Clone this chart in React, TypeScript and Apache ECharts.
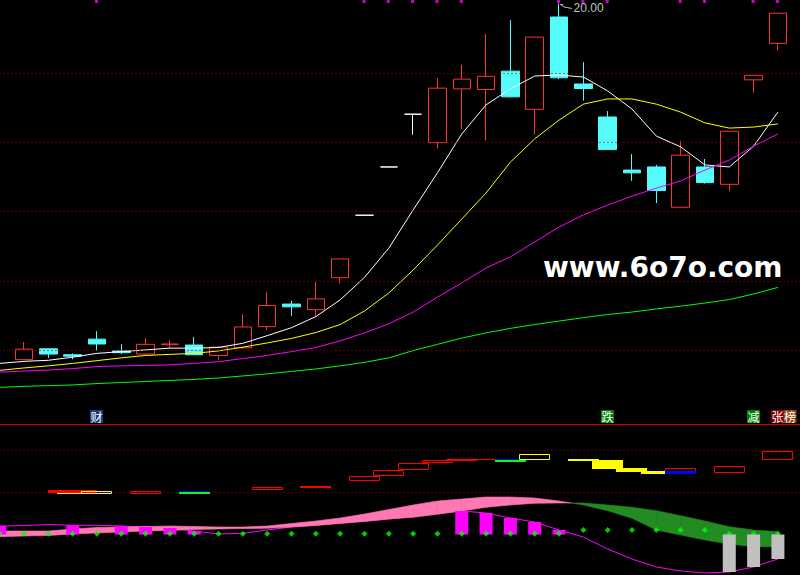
import React, { useEffect, useRef } from "react";
import * as echarts from "echarts";

const categories = [
  "D00", "D01", "D02", "D03", "D04", "D05", "D06", "D07", "D08", "D09",
  "D10", "D11", "D12", "D13", "D14", "D15", "D16", "D17", "D18", "D19",
  "D20", "D21", "D22", "D23", "D24", "D25", "D26", "D27", "D28", "D29",
  "D30", "D31", "D32", "D33",
];

// [open, close, low, high]
const candles: any[] = [
  "-",
  [9.74, 10.04, 9.74, 10.25],
  [10.05, 9.9, 9.79, 10.05],
  [9.88, 9.84, 9.75, 9.92],
  [10.33, 10.19, 10.0, 10.56],
  [9.99, 9.94, 9.9, 10.19],
  [9.9, 10.18, 9.87, 10.36],
  [10.17, 10.19, 10.07, 10.3],
  [10.16, 9.88, 9.88, 10.39],
  [9.86, 10.1, 9.74, 10.14],
  [10.08, 10.68, 10.05, 11.05],
  [10.69, 11.3, 10.6, 11.69],
  [11.34, 11.26, 11.0, 11.43],
  [11.18, 11.49, 10.98, 11.98],
  [12.1, 12.64, 11.93, 12.64],
  [13.9, 13.9, 13.9, 13.9],
  [15.29, 15.29, 15.29, 15.29],
  [16.81, 16.81, 16.22, 16.81],
  [15.99, 17.56, 15.82, 17.85],
  [17.54, 17.82, 16.38, 18.23],
  [17.52, 17.9, 16.05, 19.12],
  [18.05, 17.31, 17.29, 19.52],
  [16.95, 19.03, 16.22, 19.03],
  [19.61, 17.86, 17.82, 20.0],
  [17.68, 17.55, 17.2, 18.31],
  [16.73, 15.79, 15.79, 16.9],
  [15.2, 15.12, 14.89, 15.66],
  [15.29, 14.61, 14.25, 15.35],
  [14.13, 15.63, 14.13, 16.04],
  [15.29, 14.84, 14.81, 15.52],
  [14.79, 16.32, 14.58, 16.32],
  [17.8, 17.93, 17.43, 17.93],
  [18.85, 19.72, 18.64, 19.72],
  "-",
];

const ma5: any[] = [9.63, 9.69, 9.72, 9.81, 9.92, 9.97, 10.02, 10.07, 10.07, 10.09, 10.21, 10.43, 10.66, 10.98, 11.46, 12.11, 12.95, 14.05, 15.12, 16.24, 17.08, 17.54, 17.91, 17.94, 17.88, 17.48, 16.96, 16.18, 15.87, 15.35, 15.29, 15.89, 16.87, "-"];
const ma10: any[] = [9.43, 9.5, 9.56, 9.63, 9.71, 9.79, 9.86, 9.89, 9.92, 9.99, 10.1, 10.22, 10.35, 10.52, 10.75, 11.14, 11.66, 12.32, 13.04, 13.79, 14.54, 15.43, 16.1, 16.64, 17.1, 17.25, 17.25, 17.1, 16.87, 16.56, 16.41, 16.44, 16.53, "-"];
const ma20: any[] = [9.38, 9.41, 9.44, 9.48, 9.54, 9.56, 9.57, 9.59, 9.63, 9.68, 9.77, 9.86, 9.97, 10.09, 10.28, 10.51, 10.77, 11.11, 11.54, 11.95, 12.38, 12.7, 13.13, 13.56, 13.91, 14.19, 14.45, 14.68, 14.89, 15.2, 15.49, 15.89, 16.24, "-"];
const ma60: any[] = [8.94, 8.97, 8.99, 9.01, 9.05, 9.08, 9.11, 9.14, 9.17, 9.21, 9.27, 9.33, 9.4, 9.47, 9.56, 9.66, 9.79, 10.0, 10.18, 10.36, 10.51, 10.64, 10.75, 10.85, 10.95, 11.04, 11.11, 11.2, 11.28, 11.37, 11.47, 11.63, 11.82, "-"];

const priceLevels = [10, 12, 14, 16, 18];
const topMarkIdx = [4, 15, 16, 17, 18, 19, 23, 24, 25, 28, 29, 31, 32];
const topMarkValue = 20.057;
const tagIdx = [4, 25, 31, 32];
const tagText = ["财", "跌", "减", "张榜"];
const tagValue = 8.1;
const peakIdx = 23;
const peakPrice = 20.0;

// lower panel
const ribbonFast: any[] = [3.5, 3.5, 3.5, 5.5, 7, 7.5, 8, 8.5, 8, 7.5, 7.5, 8.5, 11, 13.5, 16.5, 20.5, 25, 29.5, 33.5, 35.5, 37.5, 37.5, 36.5, 33.5, 29.5, 23.8, 16.2, 4.5, -0.5, -5.5, -9.5, -12.2, -12.2, "-"];
const ribbonSlow: any[] = [-2.2, -1.5, -1, 0.5, 1.5, 2.5, 3.5, 4, 5, 5.5, 6, 6.2, 7.5, 9, 11, 13, 15.5, 17.2, 20.2, 23.5, 27.2, 29.5, 31.2, 31.5, 31.5, 29.5, 27.2, 23.8, 18.8, 13.5, 7.8, 4.5, 2.8, "-"];
const histLine: any[] = [8.5, 9, 10, 9.2, 9.2, 8.5, 7.5, 6.5, 3.5, 0.5, 1.2, 4.5, 7.5, 9.5, 11.5, 13.5, 15.5, 18, 21, 23.5, 21.5, 16.5, 12.5, 4.5, -2.5, -14.5, -24.5, -32.5, -36.5, -38.5, -37.5, -32.5, -24.5, "-"];
const histUp: any[] = [8.5, "-", "-", 9.2, "-", 8.5, 7.5, 6.5, 3.5, "-", "-", "-", "-", "-", "-", "-", "-", "-", "-", 23.5, 21.5, 16.5, 12.5, 4.5, "-", "-", "-", "-", "-", "-", "-", "-", "-", "-"];
const histDown: any[] = ["-", "-", "-", "-", "-", "-", "-", "-", "-", "-", "-", "-", "-", "-", "-", "-", "-", "-", "-", "-", "-", "-", "-", "-", "-", "-", "-", "-", "-", "-", -37.5, -32.5, -24.5, "-"];
const dotValues: any[] = [0.8, 0.8, 0.8, 0.8, 0.8, 0.8, 0.8, 0.8, 0.8, 0.8, 0.8, 0.8, 0.8, 0.8, 0.8, 0.8, 0.8, 0.8, 0.8, 0.8, 0.8, 0.8, 0.8, 0.8, 4.5, 4.5, 4.5, 4.5, 4.5, 4.5, 0.8, 0.8, 0.8, "-"];
const subLevels = [42.5, 84.5];

const boxIdx = [3, 3, 4, 6, 8, 11, 13, 15, 16, 17, 18, 19, 20, 21, 22, 24, 25, 26, 27, 28, 28, 30, 32];
const boxTop = [44.5, 44.5, 43.5, 43.5, 43.2, 47.5, 48.5, 58.5, 64.5, 71.5, 74.5, 75.5, 75.5, 75.5, 80.5, 75.5, 74.5, 66.5, 63.5, 66.5, 63.5, 68.5, 83.5];
const boxBottom = [40.8, 41.8, 40.8, 40.8, 40.8, 44.5, 46.5, 53.2, 58.2, 64.2, 71.2, 73.8, 74.8, 72.8, 74.8, 73.5, 65.5, 62.8, 60.5, 60.5, 60.5, 61.8, 74.8];
const boxKind = ["yellowFill", "redFillWide", "yellowHollow", "redHollow", "greenBlue", "redHollow", "redFill", "redHollow", "redHollow", "redHollow", "redHollow", "redFill", "redFill", "greenBlue", "yellowHollow", "yellowFill", "yellowFill", "yellowFill", "yellowFill", "redHollow", "blueFill", "redHollow", "redHollow"];

const boxStyles: Record<string, any> = {
  redFill: { fill: "#ff0000", w: 1.275 },
  redFillWide: { fill: "#ff0000", w: 2.0 },
  redHollow: { stroke: "#ff0000", w: 1.275 },
  yellowFill: { fill: "#ffff00", w: 1.275 },
  yellowHollow: { stroke: "#ffff00", w: 1.275 },
  greenBlue: { fill: "#00ff00", topLine: "#0000ff", w: 1.275 },
  blueFill: { fill: "#0000ff", w: 1.275 },
};

const tagBgs: string[][] = [["#123f78"], ["#008000"], ["#008000"], ["#800000", "#8b4513"]];

const CJK = '"Noto Sans CJK SC", sans-serif';

export default function App() {
  const ref = useRef<HTMLDivElement>(null);
  useEffect(() => {
    if (!ref.current) return;
    const chart = echarts.init(ref.current, null, { renderer: "svg" });

    const dotted = { color: "#a80000", type: [1, 3], width: 1 };

    const ribbonData: any[] = [];
    for (let i = 0; i < ribbonFast.length - 1; i++) {
      if (ribbonFast[i] === "-" || ribbonFast[i + 1] === "-") continue;
      ribbonData.push([i, ribbonFast[i], ribbonSlow[i], ribbonFast[i + 1], ribbonSlow[i + 1]]);
    }

    const PINK = "#ff78b4";
    const GREEN = "#228b22";

    const gridBase = { left: -12.5, right: -14.4, outerBoundsMode: "none", containLabel: false };

    const option: any = {
      animation: false,
      backgroundColor: "#000000",
      grid: [
        { ...gridBase, top: 0, height: 424 },
        { ...gridBase, top: 424, height: 151 },
      ],
      xAxis: [
        { type: "category", data: categories, gridIndex: 0, show: false, boundaryGap: true },
        { type: "category", data: categories, gridIndex: 1, show: false, boundaryGap: true },
      ],
      yAxis: [
        { type: "value", gridIndex: 0, min: 7.885, max: 20.1, show: false, splitLine: { show: false } },
        { type: "value", gridIndex: 1, min: -40.5, max: 110.5, show: false, splitLine: { show: false } },
      ],
      graphic: [
        {
          type: "line",
          shape: { x1: 0, y1: 424.5, x2: 800, y2: 424.5 },
          style: { stroke: "#c80000", lineWidth: 1 },
          z: 10,
        },
        {
          type: "text",
          x: 543,
          y: 267,
          style: {
            text: "www.6o7o.com",
            fill: "#ffffff",
            font: 'bold 28px "DejaVu Sans", sans-serif',
            verticalAlign: "middle",
            textVerticalAlign: "middle",
          },
          z: 20,
        },
      ],
      series: [
        {
          type: "line",
          name: "MA60",
          data: ma60,
          xAxisIndex: 0,
          yAxisIndex: 0,
          showSymbol: false,
          symbol: "none",
          lineStyle: { color: "#00ff00", width: 1 },
          z: 1,
          markLine: {
            silent: true,
            symbol: "none",
            label: { show: false },
            lineStyle: dotted,
            data: priceLevels.map((v) => ({ yAxis: v })),
          },
        },
        {
          type: "candlestick",
          data: candles,
          xAxisIndex: 0,
          yAxisIndex: 0,
          barWidth: 18,
          z: 2,
          itemStyle: {
            color: "#000000",
            color0: "#54fcfc",
            borderColor: "#ff3232",
            borderColor0: "#54fcfc",
            borderColorDoji: "#ffffff",
            borderWidth: 1,
          },
        },
        {
          type: "line",
          name: "MA5",
          data: ma5,
          showSymbol: false,
          symbol: "none",
          lineStyle: { color: "#ffffff", width: 1 },
          z: 3,
        },
        {
          type: "line",
          name: "MA10",
          data: ma10,
          showSymbol: false,
          symbol: "none",
          lineStyle: { color: "#ffff00", width: 1 },
          z: 3,
        },
        {
          type: "line",
          name: "MA20",
          data: ma20,
          showSymbol: false,
          symbol: "none",
          lineStyle: { color: "#ff00ff", width: 1 },
          z: 3,
        },
        {
          type: "scatter",
          data: topMarkIdx.map((x) => [x, topMarkValue]),
          symbol: "rect",
          symbolSize: [3, 3],
          symbolOffset: [-0.5, 0],
          itemStyle: { color: "#ff00ff" },
          z: 4,
        },
        {
          type: "custom",
          data: tagIdx.map((x) => [x, tagValue]),
          z: 6,
          renderItem: (params: any, api: any) => {
            const k = params.dataIndex;
            const p = api.coord([api.value(0), api.value(1)]);
            const chars = tagText[k].split("");
            const x0 = Math.round(p[0] - 6.5);
            const y0 = Math.round(p[1] - 6.5);
            const children: any[] = [];
            chars.forEach((ch, j) => {
              const bx = x0 + j * 12.5;
              children.push({
                type: "rect",
                shape: { x: bx, y: y0, width: 13, height: 13 },
                style: { fill: tagBgs[k][j] },
              });
              children.push({
                type: "text",
                style: {
                  text: ch,
                  x: bx + 6.5,
                  y: y0 + 6.5,
                  fill: "#ffffff",
                  font: `12px ${CJK}`,
                  align: "center",
                  verticalAlign: "middle",
                  textAlign: "center",
                  textVerticalAlign: "middle",
                },
              });
            });
            return { type: "group", children };
          },
        },
        {
          type: "custom",
          data: [[peakIdx, peakPrice]],
          z: 6,
          renderItem: (params: any, api: any) => {
            const p = api.coord([api.value(0), api.value(1)]);
            const x = p[0];
            const y = p[1];
            return {
              type: "group",
              children: [
                {
                  type: "polyline",
                  shape: { points: [[x + 1, y + 1], [x + 4, y + 1]] },
                  style: { stroke: "#c0c0c0", lineWidth: 1, fill: "none" },
                },
                {
                  type: "polyline",
                  shape: { points: [[x + 2, y + 1.5], [x + 5, y + 3.5], [x + 13, y + 5]] },
                  style: { stroke: "#c0c0c0", lineWidth: 1, fill: "none" },
                },
                {
                  type: "text",
                  style: {
                    text: String(api.value(1).toFixed(2)),
                    x: x + 14.5,
                    y: y + 4.5,
                    fill: "#c0c0c0",
                    font: '12px "Liberation Sans", Arial, sans-serif',
                    verticalAlign: "middle",
                    textVerticalAlign: "middle",
                  },
                },
              ],
            };
          },
        },
        // ---- lower panel ----
        {
          type: "line",
          data: histLine,
          xAxisIndex: 1,
          yAxisIndex: 1,
          showSymbol: false,
          symbol: "none",
          lineStyle: { color: "#ff00ff", width: 1 },
          z: 1,
          markLine: {
            silent: true,
            symbol: "none",
            label: { show: false },
            lineStyle: dotted,
            data: subLevels.map((v) => ({ yAxis: v })),
          },
        },
        {
          type: "custom",
          xAxisIndex: 1,
          yAxisIndex: 1,
          data: ribbonData,
          encode: { x: 0, y: [1, 2, 3, 4] },
          z: 2,
          renderItem: (params: any, api: any) => {
            const i = api.value(0);
            const f0 = api.value(1);
            const s0 = api.value(2);
            const f1 = api.value(3);
            const s1 = api.value(4);
            const a0 = api.coord([i, f0]);
            const a1 = api.coord([i + 1, f1]);
            const b0 = api.coord([i, s0]);
            const b1 = api.coord([i + 1, s1]);
            const d0 = f0 - s0;
            const d1 = f1 - s1;
            const col = (d: number) => (d >= 0 ? PINK : GREEN);
            const poly = (pts: number[][], c: string) => ({
              type: "polygon",
              shape: { points: pts },
              style: { fill: c, stroke: c, lineWidth: 0.6 },
            });
            if ((d0 >= 0 && d1 >= 0) || (d0 < 0 && d1 < 0)) {
              return poly([a0, a1, b1, b0], col(d0));
            }
            const t = d0 / (d0 - d1);
            const cx = a0[0] + (a1[0] - a0[0]) * t;
            const cy = a0[1] + (a1[1] - a0[1]) * t;
            return {
              type: "group",
              children: [poly([a0, [cx, cy], b0], col(d0)), poly([[cx, cy], a1, b1], col(d1))],
            };
          },
        },
        {
          type: "bar",
          data: histUp,
          xAxisIndex: 1,
          yAxisIndex: 1,
          barWidth: 13,
          barGap: "-100%",
          itemStyle: { color: "#ff00ff" },
          z: 3,
        },
        {
          type: "scatter",
          data: dotValues,
          xAxisIndex: 1,
          yAxisIndex: 1,
          symbol: "diamond",
          symbolSize: 6,
          itemStyle: { color: "#00ff00" },
          z: 4,
        },
        {
          type: "bar",
          data: histDown,
          xAxisIndex: 1,
          yAxisIndex: 1,
          barWidth: 13,
          barGap: "-100%",
          itemStyle: { color: "#c0c0c0" },
          z: 5,
        },
        {
          type: "custom",
          xAxisIndex: 1,
          yAxisIndex: 1,
          data: boxIdx.map((x, k) => [x, boxTop[k], boxBottom[k]]),
          encode: { x: 0, y: [1, 2] },
          z: 6,
          renderItem: (params: any, api: any) => {
            const st = boxStyles[boxKind[params.dataIndex]];
            const c1 = api.coord([api.value(0), api.value(1)]);
            const c2 = api.coord([api.value(0), api.value(2)]);
            const band = api.size([1, 0])[0];
            const w = Math.round(band * st.w);
            const x = Math.round(c1[0] - w / 2);
            const yt = Math.round(c1[1]);
            const yb = Math.round(c2[1]);
            const h = Math.max(1, yb - yt);
            if (st.stroke) {
              return {
                type: "rect",
                shape: { x: x + 0.5, y: yt + 0.5, width: w - 1, height: Math.max(1, h - 1) },
                style: { fill: "none", stroke: st.stroke, lineWidth: 1 },
              };
            }
            const children: any[] = [
              { type: "rect", shape: { x, y: yt, width: w, height: h }, style: { fill: st.fill } },
            ];
            if (st.topLine) {
              children.push({ type: "rect", shape: { x, y: yt, width: w, height: 1 }, style: { fill: st.topLine } });
            }
            return { type: "group", children };
          },
        },
      ],
    };

    chart.setOption(option);
    return () => {
      chart.dispose();
    };
  }, []);

  return (
    <div
      ref={ref}
      style={{ position: "fixed", left: 0, top: 0, width: 800, height: 575, background: "#000" }}
    />
  );
}
